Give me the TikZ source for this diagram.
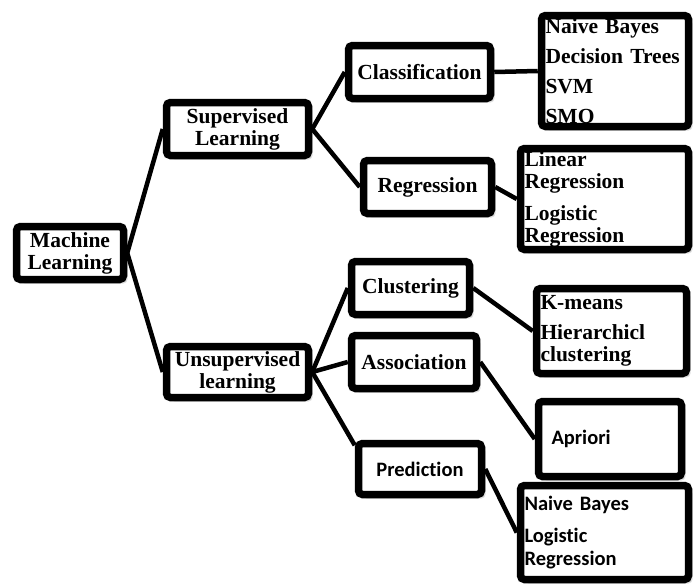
\documentclass[tikz,border=0pt]{standalone}
\usepackage{fontspec}
\setmainfont{Liberation Serif}
\newfontfamily\calibrifont[Ligatures=NoCommon]{Carlito}
\usetikzlibrary{shadows}
\definecolor{boxline}{HTML}{000000}
\tikzset{
    mlbox/.style={
        rectangle, rounded corners=4pt, draw=boxline, fill=white,
        line width=7.5pt, align=center, inner sep=2pt,
        font=\fontsize{21.5}{22}\selectfont\bfseries,
        drop shadow={opacity=0.25, shadow xshift=4pt, shadow yshift=-4pt}
    },
    leafbox/.style={mlbox, align=left, inner xsep=4pt},
    calbox/.style={font=\fontsize{20.5}{23}\selectfont\calibrifont\bfseries},
    link/.style={draw=boxline, line width=4.5pt}
}

\begin{document}
\begin{tikzpicture}[x=1pt, y=-1pt]
    \useasboundingbox (0,0) rectangle (697,584);

    % root and first level
    \node[mlbox, minimum width=107pt, minimum height=53pt] (ml) at (70,253) {Machine\\Learning};
    \node[mlbox, minimum width=142pt, minimum height=53pt] (sup) at (237.5,129) {Supervised\\Learning};
    \node[mlbox, minimum width=142pt, minimum height=51pt] (uns) at (237.5,372) {Unsupervised\\learning};

    % tasks
    \node[mlbox, minimum width=142pt, minimum height=53pt] (cls) at (419.5,72) {Classification};
    \node[mlbox, minimum width=128pt, minimum height=53pt] (reg) at (427.5,187) {Regression};
    \node[mlbox, minimum width=118pt, minimum height=53pt] (clu) at (410.5,288) {Clustering};
    \node[mlbox, minimum width=125pt, minimum height=53pt] (ass) at (414,362) {Association};
    \node[mlbox, calbox, minimum width=123pt, minimum height=51pt] (pre) at (420,469) {Prediction};

    % algorithms
    \node[leafbox, minimum width=147pt, minimum height=111pt, text width=139pt] (nb) at (615,71)
        {Naive Bayes\\[8pt]Decision Trees\\[8pt]SVM\\[8pt]SMO};
    \node[leafbox, minimum width=168pt, minimum height=101pt, text width=160pt] (lr) at (604.5,199)
        {Linear\\Regression\\[10pt]Logistic\\Regression};
    \node[leafbox, minimum width=150pt, minimum height=85pt, text width=142pt] (km) at (611.5,331)
        {K-means\\[8pt]Hierarchicl\\clustering};
    \node[leafbox, calbox, minimum width=143pt, minimum height=75pt, inner xsep=13pt, text width=117pt] (apr) at (610,439)
        {Apriori};
    \node[leafbox, calbox, minimum width=168pt, minimum height=94pt, text width=160pt] (nb2) at (604.5,532.5)
        {Naive Bayes\\[9pt]Logistic\\Regression};

    % links
    \draw[link] (ml.east) -- (sup.west);
    \draw[link] (ml.east) -- (uns.west);
    \draw[link] (sup.east) -- (cls.west);
    \draw[link] (sup.east) -- (reg.west);
    \draw[link] (uns.east) -- (clu.west);
    \draw[link] (uns.east) -- (ass.west);
    \draw[link] (uns.east) -- (pre.160);
    \draw[link] (cls.east) -- (nb.west);
    \draw[link] (reg.east) -- (lr.west);
    \draw[link] (clu.east) -- (km.west);
    \draw[link] (ass.east) -- (apr.west);
    \draw[link] (pre.east) -- (nb2.west);
\end{tikzpicture}
\end{document}
